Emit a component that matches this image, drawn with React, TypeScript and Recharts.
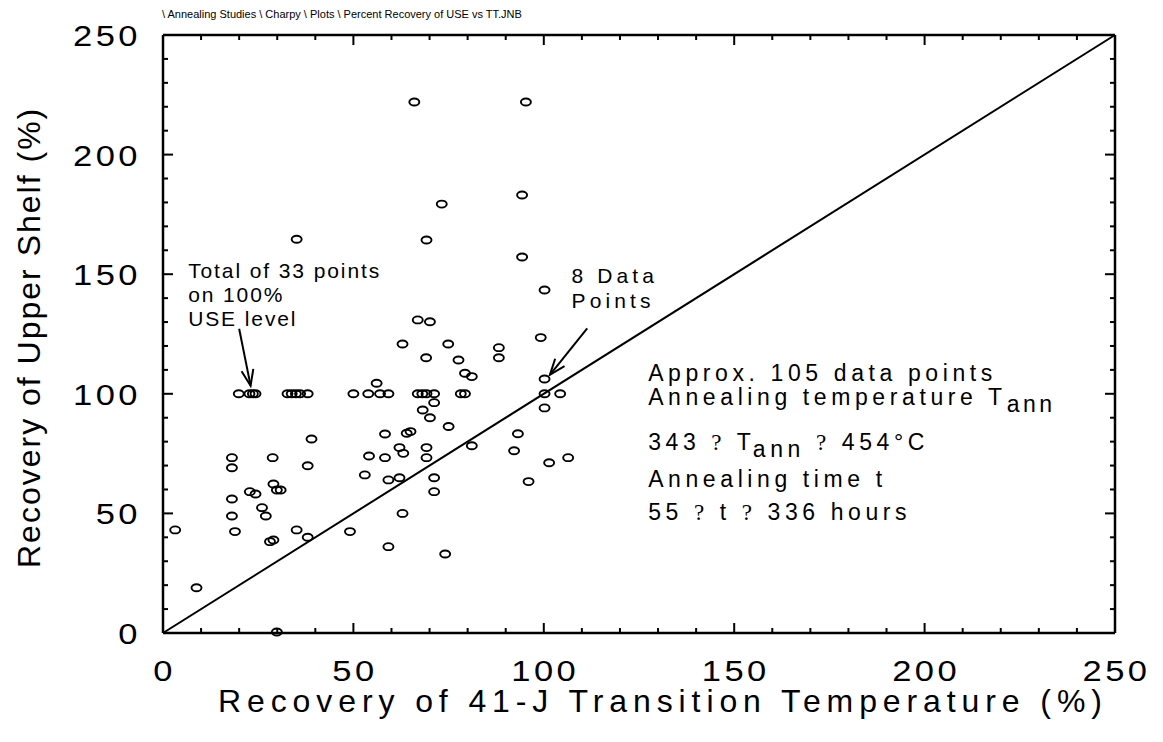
import React from 'react';
import { ScatterChart, Scatter, XAxis, YAxis, ReferenceDot, ReferenceLine } from 'recharts';

// Recovery of 41-J transition temperature (%)
const ttRecovery = [
  3.2, 8.8, 18.1, 18.1, 18.1, 18.1, 18.9, 19.9, 22.7, 23.6,
  24.3, 22.8, 24.3, 26.0, 27.0, 28.1, 29.0, 28.8, 29.0, 29.9,
  30.9, 29.9, 32.7, 33.8, 34.9, 36.0, 38.0, 35.1, 35.1, 38.0,
  38.0, 39.0, 49.1, 50.0, 53.0, 53.9, 54.1, 56.1, 57.0, 59.2,
  58.3, 58.3, 59.2, 59.2, 62.1, 63.1, 62.1, 62.9, 62.9, 64.0,
  65.0, 66.0, 66.9, 70.1, 66.9, 68.1, 69.2, 71.2, 71.2, 68.2,
  70.1, 69.1, 69.2, 69.2, 69.2, 71.2, 71.2, 73.2, 74.9, 75.0,
  74.1, 77.6, 78.2, 79.3, 79.3, 81.1, 81.1, 88.2, 88.2, 92.2,
  93.2, 94.3, 94.3, 95.3, 96.0, 99.2, 100.2, 100.2, 100.2, 100.2,
  101.4, 104.3, 106.4,
];

// Recovery of upper shelf energy (%)
const useRecovery = [
  43.1, 18.9, 73.3, 69.1, 56.0, 48.9, 42.4, 100, 100, 100,
  100, 59.1, 58.1, 52.4, 48.9, 38.2, 38.9, 73.3, 62.3, 59.8,
  59.8, 0.4, 100, 100, 100, 100, 100, 43.1, 164.6, 40.0,
  69.9, 81.1, 42.4, 100, 66.1, 100, 74.0, 104.4, 100, 100,
  83.2, 73.3, 64.0, 36.1, 77.5, 75.1, 64.9, 50.0, 120.8, 83.5,
  84.2, 222.0, 130.9, 130.1, 100, 100, 100, 100, 96.3, 93.2,
  90.0, 115.1, 164.3, 77.5, 73.3, 64.9, 59.1, 179.3, 120.8, 86.3,
  33.0, 114.1, 100, 100, 108.6, 107.2, 78.3, 119.3, 115.1, 76.2,
  83.3, 183.1, 157.2, 222.0, 63.3, 123.5, 143.4, 106.2, 100, 94.1,
  71.2, 100, 73.3,
];

const axisTicks = [0, 10, 20, 30, 40, 50, 60, 70, 80, 90, 100, 110, 120, 130, 140, 150, 160, 170, 180, 190, 200, 210, 220, 230, 240, 250];
const labelEvery = 50;
const axisDomain = [0, 250];
const diagonalX = [0, 250];
const diagonalY = [0, 250];

const headerText = '\\ Annealing Studies \\ Charpy \\ Plots \\ Percent Recovery of USE vs TT.JNB';
const xTitle = 'Recovery of 41-J Transition Temperature (%)';
const yTitle = 'Recovery of Upper Shelf (%)';

const note33Lines = ['Total of 33 points', 'on 100%', 'USE level'];
const note33Pos = { x: 6.6, y: 148.4 };
const note33Arrow = [{ x: 20.0, y: 127.2 }, { x: 23.0, y: 103.4 }];

const note8Lines = ['8 Data', 'Points'];
const note8Pos = { x: 107.3, y: 146.2 };
const note8Arrow = [{ x: 111.4, y: 127.4 }, { x: 101.6, y: 107.9 }];

const infoPos = { x: 127.4, y: 105.5 };

const points = ttRecovery.map((x, i) => ({ x, y: useRecovery[i] }));
const diagonal = diagonalX.map((x, i) => ({ x, y: diagonalY[i] }));

const FONT = '"Liberation Sans", Arial, Helvetica, sans-serif';
const SERIF = '"Liberation Serif", "DejaVu Serif", serif';

const Marker = (props: any) => (
  <ellipse cx={props.cx} cy={props.cy} rx={5} ry={3.5} fill="none" stroke="#000" strokeWidth={1.9} />
);

const HTick = (props: any) => {
  const { x, y, payload, side } = props;
  const v = payload.value;
  const major = v % labelEvery === 0;
  const len = major ? 10 : 5;
  const dir = side === 'bottom' ? -1 : 1;
  return (
    <g>
      <line x1={x} y1={y} x2={x} y2={y + dir * len} stroke="#000" strokeWidth={2} />
      {side === 'bottom' && major && (
        <text
          transform={`translate(${x + 1.5},${y + 48}) scale(1.15,1)`}
          textAnchor="middle"
          fontFamily={FONT}
          fontSize={30}
          letterSpacing={3}
          fill="#000"
        >
          {v}
        </text>
      )}
    </g>
  );
};

const VTick = (props: any) => {
  const { x, y, payload, side } = props;
  const v = payload.value;
  const major = v % labelEvery === 0;
  const len = major ? 10 : 5;
  const dir = side === 'left' ? 1 : -1;
  return (
    <g>
      <line x1={x} y1={y} x2={x + dir * len} y2={y} stroke="#000" strokeWidth={2} />
      {side === 'left' && major && (
        <text
          transform={`translate(${x - 22},${y + 11}) scale(1.15,1)`}
          textAnchor="end"
          fontFamily={FONT}
          fontSize={30}
          letterSpacing={3}
          fill="#000"
        >
          {v}
        </text>
      )}
    </g>
  );
};

const Arrow = (props: any) => {
  const { x1, y1, x2, y2 } = props;
  const ang = Math.atan2(y2 - y1, x2 - x1);
  const L = 17;
  const spread = 0.36;
  const ax = x2 - L * Math.cos(ang - spread);
  const ay = y2 - L * Math.sin(ang - spread);
  const bx = x2 - L * Math.cos(ang + spread);
  const by = y2 - L * Math.sin(ang + spread);
  return (
    <g stroke="#000" strokeWidth={2} fill="none">
      <line x1={x1} y1={y1} x2={x2} y2={y2} />
      <polyline points={`${ax},${ay} ${x2},${y2} ${bx},${by}`} />
    </g>
  );
};

const makeNote = (lines: string[], size: number, ls: number, lh: number) => (props: any) => {
  const { cx, cy } = props;
  return (
    <text fontFamily={FONT} fontSize={size} letterSpacing={ls} fill="#000">
      {lines.map((t, i) => (
        <tspan key={i} x={cx} y={cy + i * lh}>
          {t}
        </tspan>
      ))}
    </text>
  );
};

const InfoBlock = (props: any) => {
  const { cx, cy } = props;
  const s = 23;
  const ls = 4.6;
  const sub = 7;
  return (
    <text fontFamily={FONT} fontSize={s} letterSpacing={ls} fill="#000">
      <tspan x={cx} y={cy}>{'Approx. 105 data points'}</tspan>
      <tspan x={cx} y={cy + 24}>{'Annealing temperature T'}</tspan>
      <tspan dy={sub} letterSpacing={3.5}>{'ann'}</tspan>
      <tspan x={cx} y={cy + 69.3}>{'343 '}</tspan>
      <tspan fontFamily={SERIF}>{'?'}</tspan>
      <tspan>{' T'}</tspan>
      <tspan dy={sub}>{'ann'}</tspan>
      <tspan dy={-sub}>{' '}</tspan>
      <tspan fontFamily={SERIF}>{'?'}</tspan>
      <tspan>{' 454°C'}</tspan>
      <tspan x={cx} y={cy + 106}>{'Annealing time t'}</tspan>
      <tspan x={cx} y={cy + 139.3}>{'55 '}</tspan>
      <tspan fontFamily={SERIF}>{'?'}</tspan>
      <tspan>{' t '}</tspan>
      <tspan fontFamily={SERIF}>{'?'}</tspan>
      <tspan>{' 336 hours'}</tspan>
    </text>
  );
};

const XTitle = (props: any) => {
  const vb = props.viewBox || { x: 155, y: 625 };
  return (
    <text x={vb.x + 55} y={vb.y + 79} fontFamily={FONT} fontSize={32} letterSpacing={5.9} fill="#000">
      {xTitle}
    </text>
  );
};

const YTitle = (props: any) => {
  const vb = props.viewBox || { x: 55, y: 27, height: 598 };
  const x = vb.x - 23;
  const y = vb.y + vb.height - 65;
  return (
    <text
      x={x}
      y={y}
      transform={`rotate(-90, ${x}, ${y})`}
      fontFamily={FONT}
      fontSize={32}
      letterSpacing={2}
      fill="#000"
    >
      {yTitle}
    </text>
  );
};

export default function App() {
  return (
    <div style={{ position: 'relative', width: 1150, height: 726, background: '#fff' }}>
      <div
        style={{
          position: 'absolute',
          left: 154,
          top: 0,
          fontFamily: FONT,
          fontSize: 11,
          lineHeight: '12px',
          color: '#000',
          whiteSpace: 'pre',
        }}
      >
        {headerText}
      </div>
      <ScatterChart width={1150} height={726} margin={{ top: 26, right: 42, bottom: 11, left: 55 }}>
        <XAxis
          xAxisId="b"
          type="number"
          dataKey="x"
          domain={axisDomain}
          ticks={axisTicks}
          interval={0}
          orientation="bottom"
          height={90}
          tickSize={0}
          tickMargin={0}
          tickLine={false}
          axisLine={{ stroke: '#000', strokeWidth: 2.5 }}
          tick={(p: any) => <HTick {...p} side="bottom" />}
          label={(p: any) => <XTitle {...p} />}
        />
        <XAxis
          xAxisId="t"
          type="number"
          dataKey="x"
          domain={axisDomain}
          ticks={axisTicks}
          interval={0}
          orientation="top"
          height={1}
          tickSize={0}
          tickMargin={0}
          tickLine={false}
          axisLine={{ stroke: '#000', strokeWidth: 2.5 }}
          tick={(p: any) => <HTick {...p} side="top" />}
        />
        <YAxis
          yAxisId="l"
          type="number"
          dataKey="y"
          domain={axisDomain}
          ticks={axisTicks}
          interval={0}
          orientation="left"
          width={100}
          tickSize={0}
          tickMargin={0}
          tickLine={false}
          axisLine={{ stroke: '#000', strokeWidth: 2.5 }}
          tick={(p: any) => <VTick {...p} side="left" />}
          label={(p: any) => <YTitle {...p} />}
        />
        <YAxis
          yAxisId="r"
          type="number"
          dataKey="y"
          domain={axisDomain}
          ticks={axisTicks}
          interval={0}
          orientation="right"
          width={1}
          tickSize={0}
          tickMargin={0}
          tickLine={false}
          axisLine={{ stroke: '#000', strokeWidth: 2.5 }}
          tick={(p: any) => <VTick {...p} side="right" />}
        />
        <Scatter
          xAxisId="t"
          yAxisId="r"
          data={diagonal}
          line={{ stroke: '#000', strokeWidth: 2 }}
          shape={() => <g />}
          isAnimationActive={false}
        />
        <Scatter xAxisId="b" yAxisId="l" data={points} shape={Marker} isAnimationActive={false} />
        <ReferenceLine
          xAxisId="b"
          yAxisId="l"
          segment={note33Arrow}
          shape={(p: any) => <Arrow {...p} />}
          ifOverflow="visible"
        />
        <ReferenceLine
          xAxisId="b"
          yAxisId="l"
          segment={note8Arrow}
          shape={(p: any) => <Arrow {...p} />}
          ifOverflow="visible"
        />
        <ReferenceDot
          xAxisId="b"
          yAxisId="l"
          x={note33Pos.x}
          y={note33Pos.y}
          r={0}
          ifOverflow="visible"
          shape={makeNote(note33Lines, 21, 1.9, 24)}
        />
        <ReferenceDot
          xAxisId="b"
          yAxisId="l"
          x={note8Pos.x}
          y={note8Pos.y}
          r={0}
          ifOverflow="visible"
          shape={makeNote(note8Lines, 21, 4.1, 25)}
        />
        <ReferenceDot
          xAxisId="b"
          yAxisId="l"
          x={infoPos.x}
          y={infoPos.y}
          r={0}
          ifOverflow="visible"
          shape={InfoBlock}
        />
      </ScatterChart>
    </div>
  );
}
